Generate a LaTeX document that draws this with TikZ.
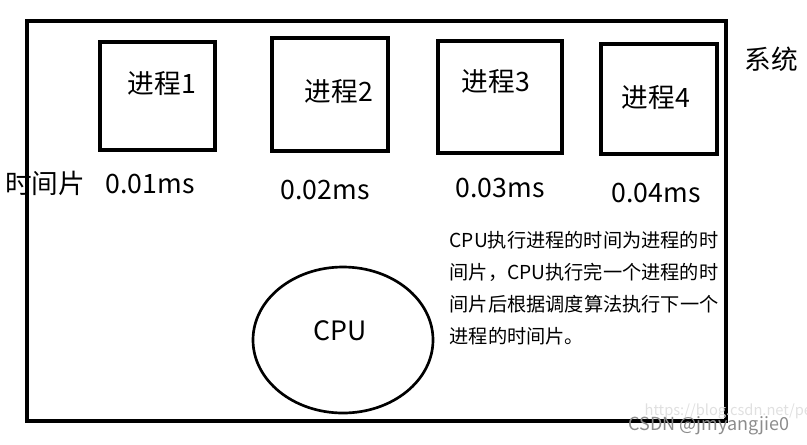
\documentclass[tikz,border=0pt]{standalone}
\usepackage{fontspec}
\setmainfont{Noto Sans CJK SC}
\tikzset{every picture/.style={line width=2.4pt}}
\tikzset{lbl/.style={font=\fontsize{20}{24}\selectfont, inner sep=0pt}}

\begin{document}
\begin{tikzpicture}[x=0.75pt,y=0.75pt,yscale=-1,xscale=1]
\path [use as bounding box] (0,0) rectangle (807,444);

%Shape: Rectangle [id:system]
\draw   (27,21) rectangle (726,421) ;
%Shape: Rectangle [id:proc1]
\draw   (100,42) rectangle (215,150) ;
%Shape: Rectangle [id:proc2]
\draw   (272,38) rectangle (388,151) ;
%Shape: Rectangle [id:proc3]
\draw   (438,41) rectangle (562,153) ;
%Shape: Rectangle [id:proc4]
\draw   (601,44) rectangle (717,154) ;
%Shape: Ellipse [id:cpu]
\draw  [line width=2pt] (343,340) ellipse (90 and 73) ;

% Text Node
\node [lbl] (p1) at (162,84) {进程1};
% Text Node
\node [lbl] (p2) at (339,92) {进程2};
% Text Node
\node [lbl] (p3) at (496,82) {进程3};
% Text Node
\node [lbl] (p4) at (656,98) {进程4};
% Text Node
\node [lbl] (sys) at (771,59) {系统};
% Text Node
\node [lbl] (slice) at (45,183) {时间片};
% Text Node
\node [lbl] (t1) at (150,184) {0.01ms};
% Text Node
\node [lbl] (t2) at (325,190) {0.02ms};
% Text Node
\node [lbl] (t3) at (500,188) {0.03ms};
% Text Node
\node [lbl] (t4) at (656,193) {0.04ms};
% Text Node
\node [lbl] (cpu) at (340,331) {CPU};
% Text Node
\node [font=\fontsize{14.4}{24}\selectfont, align=left, anchor=north west, inner sep=0pt] (note) at (448,230)
  {CPU执行进程的时间为进程的时\\间片，CPU执行完一个进程的时\\间片后根据调度算法执行下一个\\进程的时间片。};
% Text Node
\node [font=\fontsize{11}{13}\selectfont, text=black!12, anchor=west, inner sep=0pt] (url) at (643,411) {https://blog.csdn.net/pear\_};
% Text Node
\node [font=\fontsize{13.5}{16}\selectfont, text=black!45, anchor=west, inner sep=0pt] (wm) at (627,426) {CSDN @jmyangjie0};

\end{tikzpicture}
\end{document}
